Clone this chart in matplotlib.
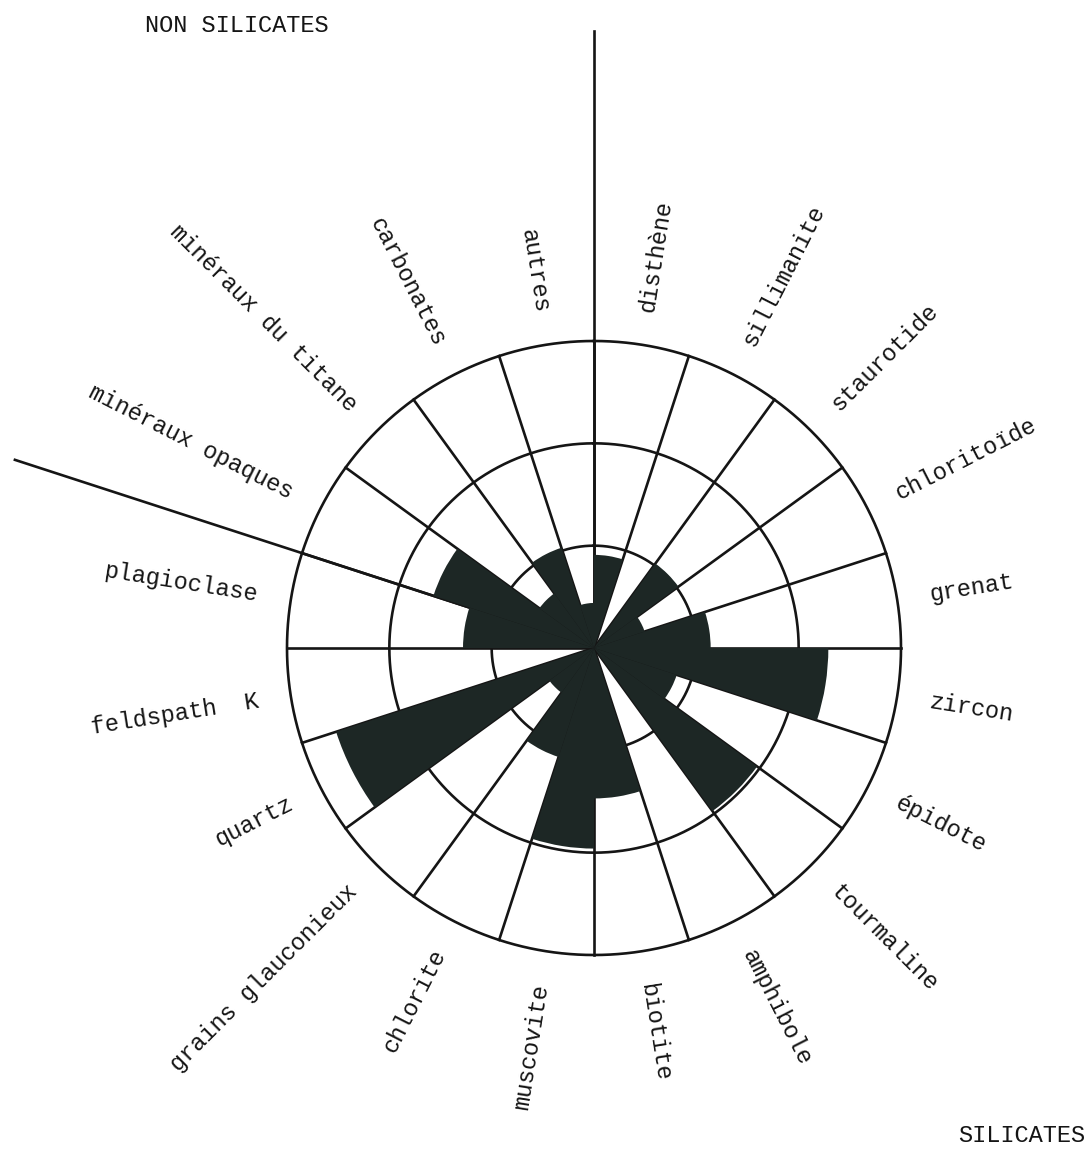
import numpy as np
import matplotlib
matplotlib.use("Agg")
import matplotlib.pyplot as plt

# Minerals, clockwise from north; the first group are silicates,
# the last four are non-silicates.
minerals = [
    "disthène", "sillimanite", "staurotide", "chloritoïde", "grenat",
    "zircon", "épidote", "tourmaline", "amphibole", "biotite",
    "muscovite", "chlorite", "grains glauconieux", "quartz", "feldspath  K",
    "plagioclase", "minéraux opaques", "minéraux du titane", "carbonates", "autres",
]
# Relative abundance for each mineral (rings drawn every 10 units)
abundance = [
    9.1, 0.0, 10.2, 5.2, 11.4,
    22.9, 8.5, 19.7, 0.0, 14.7,
    19.6, 11.2, 5.4, 26.5, 0.0,
    12.8, 16.5, 6.6, 10.3, 4.4,
]
ring_values = [10, 20, 30]
group_titles = ["NON SILICATES", "SILICATES"]

ink = "#151515"
fill = "#1d2725"
font = ["Liberation Mono", "DejaVu Sans Mono"]

fig = plt.figure(figsize=(10.90, 11.56), dpi=100)
fig.patch.set_facecolor("white")

W, H = 1090, 1156
cx, cy, R = 594, 648, 307
ax = fig.add_axes([(cx - R) / W, (H - cy - R) / H, 2 * R / W, 2 * R / H],
                  projection="polar")
ax.set_theta_zero_location("N")
ax.set_theta_direction(-1)
ax.set_ylim(0, ring_values[-1])
ax.set_facecolor("none")
ax.grid(False)
ax.set_xticks([])
ax.set_yticks([])
ax.spines["polar"].set_visible(False)

n = len(minerals)
step = 2 * np.pi / n
centers = np.arange(n) * step + step / 2

# grid: concentric rings and sector boundaries
circ = np.linspace(0, 2 * np.pi, 721)
for rv in ring_values:
    ax.plot(circ, np.full_like(circ, rv), color=ink, lw=1.9, zorder=1,
            clip_on=False)
for k in range(n):
    a = k * step
    ax.plot([a, a], [0, ring_values[-1]], color=ink, lw=1.9, zorder=1,
            clip_on=False)

# dividing lines between silicates and non-silicates
for a, length in ((0.0, 60.3), (16 * step, 59.5)):
    ax.plot([a, a], [0, length], color=ink, lw=1.9, zorder=1, clip_on=False)

# abundance bars
ax.bar(centers, abundance, width=step, bottom=0, align="center",
       color=fill, edgecolor="none", zorder=2)

# radial labels
r_lab = 33.2
for th, name in zip(centers, minerals):
    deg = np.degrees(th)
    math_ang = 90 - deg
    if deg < 180:
        rot, ha = math_ang, "left"
    else:
        rot, ha = math_ang + 180, "right"
    ax.text(th, r_lab, name, rotation=rot, rotation_mode="anchor",
            ha=ha, va="center", fontsize=17, family=font, color=ink,
            clip_on=False)

fig.text(145 / W, 1 - 25 / H, group_titles[0], ha="left", va="center",
         fontsize=17, family=font, color=ink)
fig.text(1085 / W, 1 - 1135 / H, group_titles[1], ha="right", va="center",
         fontsize=17, family=font, color=ink)

fig.savefig("out.png", dpi=100, facecolor="white")
